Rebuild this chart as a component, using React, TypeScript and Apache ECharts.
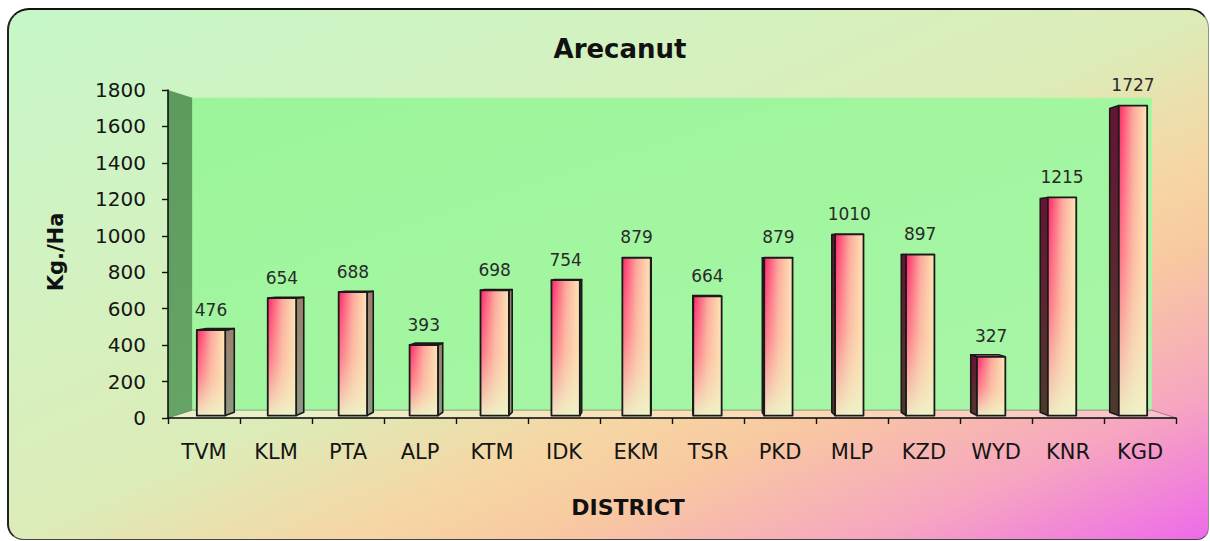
import React, { useEffect, useRef } from "react";
import * as echarts from "echarts";

const categories = ["TVM", "KLM", "PTA", "ALP", "KTM", "IDK", "EKM", "TSR", "PKD", "MLP", "KZD", "WYD", "KNR", "KGD"];
const values = [476, 654, 688, 393, 698, 754, 879, 664, 879, 1010, 897, 327, 1215, 1727];
const yMin = 0;
const yMax = 1800;
const yInterval = 200;

const FONT = "'DejaVu Sans', 'Liberation Sans', Arial, sans-serif";
const S_FRONT = 0.985;
const S_BACK = 0.965;
const S_WALL = 0.952;

function proj(cx0: number, cy0: number, x: number, y: number, s: number) {
  return [cx0 + (x - cx0) * s, cy0 + (y - cy0) * s];
}

function renderWalls(params: any, api: any) {
  const cs = params.coordSys;
  const cx0 = cs.x + cs.width / 2;
  const cy0 = cs.y + cs.height / 2;
  const x0 = cs.x, x1 = cs.x + cs.width, y0 = cs.y, y1 = cs.y + cs.height;
  const P = (x: number, y: number, s: number) => proj(cx0, cy0, x, y, s);
  const bTL = P(x0, y0, S_WALL), bTR = P(x1, y0, S_WALL), bBR = P(x1, y1, S_WALL), bBL = P(x0, y1, S_WALL);
  return {
    type: "group",
    children: [
      {
        type: "polygon",
        shape: { points: [bTL, bTR, bBR, bBL] },
        style: {
          fill: {
            type: "linear", x: 0, y: 0, x2: 1, y2: 1,
            colorStops: [
              { offset: 0, color: "#9cf59a" },
              { offset: 0.5, color: "#a2f6a0" },
              { offset: 1, color: "#a8f5a8" },
            ],
          },
          stroke: "none",
        },
        silent: true,
      },
      {
        type: "polygon",
        shape: { points: [[x0, y0], bTL, bBL, [x0, y1]] },
        style: {
          fill: {
            type: "linear", x: 0, y: 0, x2: 0, y2: 1,
            colorStops: [
              { offset: 0, color: "#5c9a5e" },
              { offset: 1, color: "#66a466" },
            ],
          },
          stroke: "none",
        },
        silent: true,
      },
      {
        type: "polygon",
        shape: { points: [[x0, y1], bBL, bBR, [x1, y1]] },
        style: { fill: "rgba(255,245,225,0.35)", stroke: "rgba(90,90,90,0.55)", lineWidth: 1 },
        silent: true,
      },
    ],
  };
}

function renderBar(params: any, api: any) {
  const cs = params.coordSys;
  const cx0 = cs.x + cs.width / 2;
  const cy0 = cs.y + cs.height / 2;
  const idx = api.value(0);
  const v = api.value(1);
  const top = api.coord([idx, v]);
  const base = api.coord([idx, 0]);
  const band = api.size([1, 0])[0];
  const hw = band * 0.2;
  const cx = top[0];
  const P = (x: number, y: number, s: number) => proj(cx0, cy0, x, y, s);

  const fTL = P(cx - hw, top[1], S_FRONT);
  const fTR = P(cx + hw, top[1], S_FRONT);
  const fBR = P(cx + hw, base[1], S_FRONT);
  const fBL = P(cx - hw, base[1], S_FRONT);
  const front = [fTL, fTR, fBR, fBL];

  const children: any[] = [];
  const rightSide = cx < cx0;
  const ex = rightSide ? cx + hw : cx - hw;
  const side = [P(ex, top[1], S_FRONT), P(ex, top[1], S_BACK), P(ex, base[1], S_BACK), P(ex, base[1], S_FRONT)];
  children.push({
    type: "polygon",
    shape: { points: side },
    style: {
      fill: rightSide
        ? { type: "linear", x: 0, y: 0, x2: 0, y2: 1, colorStops: [{ offset: 0, color: "#9c806c" }, { offset: 1, color: "#8c9882" }] }
        : { type: "linear", x: 0, y: 0, x2: 0, y2: 1, colorStops: [{ offset: 0, color: "#661434" }, { offset: 1, color: "#4e3a2c" }] },
      stroke: "#1a1a1a",
      lineWidth: 1.6,
      lineJoin: "round",
    },
  });
  if (top[1] > cy0) {
    children.push({
      type: "polygon",
      shape: { points: [fTL, fTR, P(cx + hw, top[1], S_BACK), P(cx - hw, top[1], S_BACK)] },
      style: { fill: "#d86a80", stroke: "#1a1a1a", lineWidth: 1.6, lineJoin: "round" },
    });
  }
  children.push({
    type: "polygon",
    shape: { points: front },
    style: {
      fill: {
        type: "linear", x: 0, y: 0, x2: 1, y2: 0,
        colorStops: [
          { offset: 0, color: "#ff2468" },
          { offset: 0.5, color: "#fca69a" },
          { offset: 1, color: "#fde6b6" },
        ],
      },
      stroke: "none",
    },
  });
  children.push({
    type: "polygon",
    shape: { points: front },
    style: {
      fill: {
        type: "linear", x: 0, y: 0, x2: 0, y2: 1,
        colorStops: [
          { offset: 0, color: "rgba(253,230,190,0)" },
          { offset: 0.5, color: "rgba(252,222,178,0.4)" },
          { offset: 1, color: "rgba(238,244,200,0.95)" },
        ],
      },
      stroke: "#1a1a1a",
      lineWidth: 1.8,
      lineJoin: "round",
    },
  });
  children.push({
    type: "text",
    style: {
      text: String(v),
      x: (fTL[0] + fTR[0]) / 2,
      y: fTL[1] - 12,
      align: "center",
      verticalAlign: "bottom",
      textAlign: "center",
      textVerticalAlign: "bottom",
      fontSize: 17,
      fontFamily: FONT,
      fill: "#2a2a2a",
    },
  });
  return { type: "group", children };
}

export default function App() {
  const ref = useRef<HTMLDivElement>(null);
  useEffect(() => {
    if (!ref.current) return;
    const chart = echarts.init(ref.current, null, { renderer: "svg" });
    chart.setOption({
      animation: false,
      backgroundColor: "transparent",
      title: {
        text: "Arecanut",
        left: 615,
        top: 31,
        textAlign: "center",
        textStyle: { fontFamily: FONT, fontSize: 26, fontWeight: "bold", color: "#111" },
      },
      grid: { left: 168, top: 90, width: 1008, height: 328 },
      xAxis: {
        type: "category",
        data: categories,
        z: 10,
        axisLine: { show: true, lineStyle: { color: "#111", width: 1.6 } },
        axisTick: { show: true, alignWithLabel: false, length: 6, lineStyle: { color: "#111", width: 1.4 } },
        axisLabel: { margin: 23, fontSize: 21, fontFamily: FONT, color: "#151515" },
        splitLine: { show: false },
      },
      yAxis: {
        type: "value",
        min: yMin,
        max: yMax,
        interval: yInterval,
        z: 10,
        axisLine: { show: true, lineStyle: { color: "#111", width: 1.6 } },
        axisTick: { show: true, length: 6, lineStyle: { color: "#111", width: 1.4 } },
        axisLabel: {
          margin: 22,
          fontSize: 20,
          fontFamily: FONT,
          color: "#151515",
          formatter: (val: number) => String(val),
        },
        splitLine: { show: false },
      },
      graphic: [
        {
          type: "text",
          x: 56,
          y: 252,
          rotation: Math.PI / 2,
          style: {
            text: "Kg./Ha",
            align: "center",
            verticalAlign: "middle",
            textAlign: "center",
            textVerticalAlign: "middle",
            fontSize: 21,
            fontWeight: "bold",
            fontFamily: FONT,
            fill: "#111",
          },
        },
        {
          type: "text",
          x: 628,
          y: 507,
          style: {
            text: "DISTRICT",
            align: "center",
            verticalAlign: "middle",
            textAlign: "center",
            textVerticalAlign: "middle",
            fontSize: 22,
            fontWeight: "bold",
            fontFamily: FONT,
            fill: "#111",
          },
        },
      ],
      series: [
        {
          type: "custom",
          z: 1,
          silent: true,
          renderItem: renderWalls,
          data: [[0, 0]],
          encode: { x: 0, y: 1 },
        },
        {
          type: "custom",
          z: 2,
          renderItem: renderBar,
          data: values.map((v, i) => [i, v]),
          encode: { x: 0, y: 1 },
        },
      ],
    });
    return () => chart.dispose();
  }, []);

  return (
    <div style={{ position: "fixed", left: 0, top: 0, width: 1210, height: 541, overflow: "hidden", background: "#fff" }}>
      <div
        style={{
          position: "absolute",
          left: 7,
          top: 8,
          width: 1202,
          height: 532,
          boxSizing: "border-box",
          borderTop: "2.5px solid #111",
          borderLeft: "2px solid #222",
          borderBottom: "1.5px solid #444",
          borderRight: "1px solid rgba(90,90,90,0.6)",
          borderRadius: "22px 20px 12px 16px",
          background:
            "linear-gradient(to bottom right, #c6f7c8 0%, #d4f1c0 30%, #dcecb8 50%, #f6d6a4 64%, #f8c9a0 72%, #f6a6c0 86%, #ee6aea 100%)",
        }}
      />
      <div ref={ref} style={{ position: "absolute", left: 0, top: 0, width: 1210, height: 541 }} />
    </div>
  );
}
